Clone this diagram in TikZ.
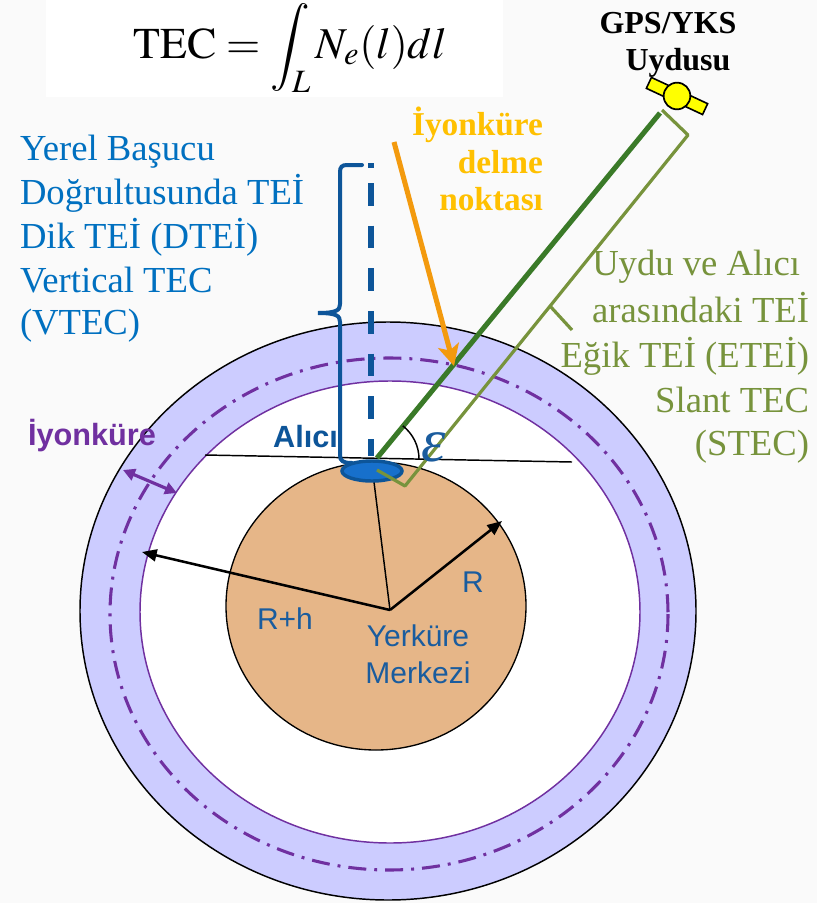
\documentclass[tikz,border=0pt]{standalone}
\usepackage{mathptmx}
\usepackage{fontspec}
\setmainfont{Liberation Serif}
\setsansfont{Liberation Sans}
\usetikzlibrary{arrows.meta}

\definecolor{paper}{HTML}{FAFAFA}
\definecolor{iono}{HTML}{CCCCFF}
\definecolor{ionoline}{HTML}{7030A0}
\definecolor{earth}{HTML}{E6B688}
\definecolor{vblue}{HTML}{0070C0}
\definecolor{dblue}{HTML}{0D5599}
\definecolor{geoblue}{HTML}{1A5C9E}
\definecolor{rxfill}{HTML}{1770CC}
\definecolor{slant}{HTML}{77933C}
\definecolor{ray}{HTML}{3A7A28}
\definecolor{pierce}{HTML}{F39A0E}
\definecolor{piercetxt}{HTML}{FFC000}
\definecolor{panel}{HTML}{FFFF00}

\tikzset{
  lbl/.style={inner sep=0pt, outer sep=0pt},
  bluetext/.style={lbl, text=vblue, font=\fontsize{27.5}{33}\selectfont},
  olivetext/.style={lbl, text=slant, font=\fontsize{27.5}{33}\selectfont},
  ipptext/.style={lbl, text=piercetxt, font=\bfseries\fontsize{25}{28}\selectfont},
  sattext/.style={lbl, font=\bfseries\fontsize{24}{28}\selectfont},
  geolabel/.style={lbl, text=geoblue, font=\sffamily\fontsize{22.5}{27}\selectfont},
  boldsans/.style={lbl, font=\sffamily\bfseries\fontsize{23}{27}\selectfont},
  radius line/.style={draw=black, line width=1.9pt, -{Triangle[length=11pt,width=9pt]}},
}

\begin{document}
\begin{tikzpicture}[x=0.75pt, y=-0.75pt]
% canvas
\fill[paper] (0,0) rectangle (817,903);
\useasboundingbox (0,0) rectangle (817,903);
\fill[white] (46,0) rectangle (503,97);

% ionosphere shell
\filldraw[fill=iono, draw=black, line width=1.1pt] (388,611) ellipse [x radius=308, y radius=289];
\filldraw[fill=white, draw=ionoline, line width=1.1pt] (390,612) ellipse [x radius=250, y radius=231];
\draw[ionoline, line width=2.3pt, dash pattern=on 13.5pt off 6pt on 2.2pt off 6pt]
  (389,614) ellipse [x radius=279, y radius=256];

% earth
\filldraw[fill=earth, draw=black, line width=1pt] (376,606) ellipse [x radius=150, y radius=144];

% named points
\coordinate (ctr) at (390,610);
\coordinate (rx) at (372,466);
\coordinate (rtip) at (502,521);
\coordinate (rhtip) at (142,552);
\coordinate (hl) at (205,455);
\coordinate (hr) at (572,462);
\coordinate (rxtop) at (377,458);
\coordinate (satlow) at (660,113);
\coordinate (o1) at (377,470);
\coordinate (o2) at (405,486);
\coordinate (o3) at (688,135);
\coordinate (o4) at (662,110);
\coordinate (onotch) at (550,306);
\coordinate (ospike) at (572,330);
\coordinate (iouter) at (123,470);
\coordinate (iinner) at (177,493);
\coordinate (ipptail) at (394,142);
\coordinate (ipp) at (454,366);
\coordinate (vtop) at (371,163);
\coordinate (vbot) at (371,456);

% local horizon
\draw[black, line width=1.1pt] (hl) -- (hr);

% radii
\draw[black, line width=1.1pt] (ctr) -- (rx);
\draw[radius line] (ctr) -- (rtip);
\draw[radius line] (ctr) -- (rhtip);

% ionosphere thickness
\draw[ionoline, line width=2.4pt, {Triangle[length=9pt,width=9pt]}-{Triangle[length=9pt,width=9pt]}] (iouter) -- (iinner);

% vertical TEC: zenith dashes and brace
\draw[dblue, line width=3.8pt, dash pattern=on 4pt off 11pt on 17pt off 15pt on 17pt off 15pt on 17pt off 15pt on 17pt off 15pt on 17pt off 15pt on 17pt off 15pt on 13pt off 17pt on 13pt off 18pt on 14pt off 15pt on 13pt off 50pt] (vtop) -- (vbot);
\draw[dblue, line width=3pt, line cap=round]
  (362,165) -- (347,165) .. controls (342,165) and (340,167) .. (340,172)
  -- (340,304) .. controls (340,310) and (337,313) .. (318,313)
  .. controls (337,313) and (340,316) .. (340,322)
  -- (340,455) .. controls (340,461) and (343,463) .. (352,463);

% receiver
\filldraw[fill=rxfill, draw=dblue, line width=2.6pt] (372,471) ellipse [x radius=30, y radius=10];

% line of sight and slant TEC bracket
\draw[ray, line width=3.8pt] (rxtop) -- (satlow);
\draw[slant, line width=2.4pt, line join=round] (o1) -- (o2) -- (o3) -- (o4);
\draw[slant, line width=2.4pt] (onotch) -- (ospike);

% elevation angle
\draw[black, line width=1.1pt] (419,459) arc[start angle=0, end angle=52, radius=31.5pt];
\node[lbl, text=geoblue, font=\itshape\fontsize{46}{50}\selectfont] (eps) at (434,447) {ε};

% ionospheric pierce point
\draw[pierce, line width=3.8pt, -{Stealth[length=16pt,width=16pt,inset=4pt]}] (ipptail) -- (ipp);

% satellite
\filldraw[fill=panel, draw=black, line width=1.2pt, shift={(677,96)}, rotate=-25] (-31,-6) rectangle (31,6);
\filldraw[fill=panel, draw=black, line width=1.3pt] (677,96) circle [radius=10pt];

% formula
\node[lbl, anchor=base] (tec) at (290,58)
  {\fontsize{33}{38}\selectfont$\displaystyle \mathrm{TEC}=\int_L N_e(l)dl$};

% satellite caption
\node[sattext, anchor=base] (gps) at (668,33) {GPS/YKS};
\node[sattext, anchor=base] (uydusu) at (678,70) {Uydusu};

% pierce point caption
\node[ipptext, anchor=base east] (ipp1) at (543,135) {İyonküre};
\node[ipptext, anchor=base east] (ipp2) at (543,173) {delme};
\node[ipptext, anchor=base east] (ipp3) at (543,210) {noktası};

% vertical TEC caption
\node[bluetext, anchor=base west] (v1) at (20,160) {Yerel Başucu};
\node[bluetext, anchor=base west] (v2) at (20,204) {Doğrultusunda TEİ};
\node[bluetext, anchor=base west] (v3) at (20,248) {Dik TEİ (DTEİ)};
\node[bluetext, anchor=base west] (v4) at (20,292) {Vertical TEC};
\node[bluetext, anchor=base west] (v5) at (20,334) {(VTEC)};

% slant TEC caption
\node[olivetext, anchor=base east] (s1) at (800,275) {Uydu ve Alıcı};
\node[olivetext, anchor=base east] (s2) at (809,322) {arasındaki TEİ};
\node[olivetext, anchor=base east] (s3) at (809,367) {Eğik TEİ (ETEİ)};
\node[olivetext, anchor=base east] (s4) at (809,412) {Slant TEC};
\node[olivetext, anchor=base east] (s5) at (809,455) {(STEC)};

% geometry labels
\node[boldsans, text=ionoline, anchor=base west] (iyon) at (28,445) {İyonküre};
\node[boldsans, text=dblue, anchor=base east] (alici) at (338,447) {Alıcı};
\node[geolabel, anchor=base west] (rlab) at (462,592) {R};
\node[geolabel, anchor=base west] (rhlab) at (257,629) {R+h};
\node[geolabel, anchor=base] (yer) at (418,646) {Yerküre};
\node[geolabel, anchor=base] (mer) at (418,683) {Merkezi};
\end{tikzpicture}
\end{document}
